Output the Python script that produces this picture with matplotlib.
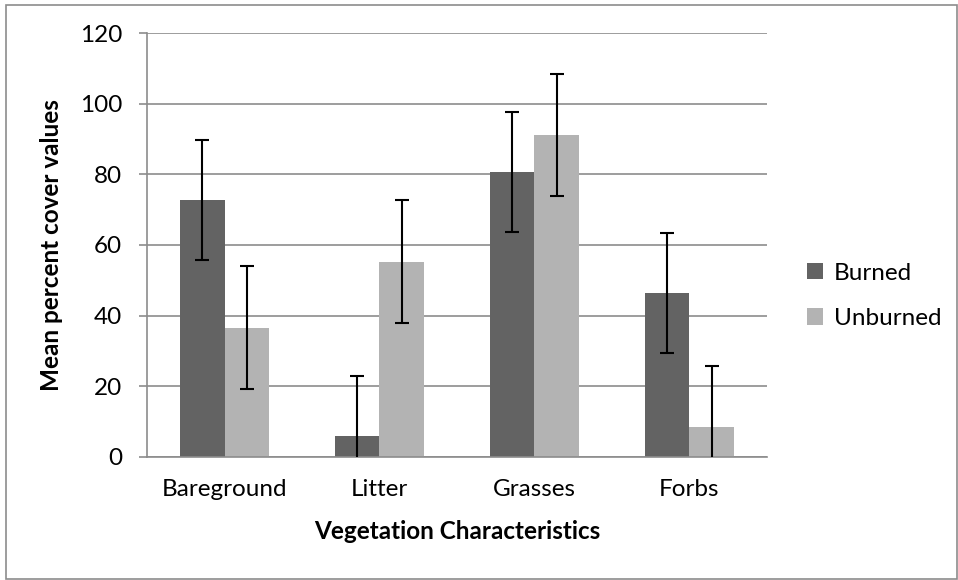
import numpy as np
import matplotlib.pyplot as plt
from matplotlib.patches import Rectangle

plt.rcParams['font.family'] = ['Lato', 'DejaVu Sans']

categories = ['Bareground', 'Litter', 'Grasses', 'Forbs']
burned = [72.7, 5.8, 80.6, 46.4]
unburned = [36.6, 55.3, 91.2, 8.5]
burned_err = [17, 17, 17, 17]
unburned_err = [17.4, 17.3, 17.3, 17.3]

fig = plt.figure(figsize=(9.58, 5.8), dpi=100)
ax = fig.add_axes([0.1535, 0.2121, 0.647, 0.731])

x = np.arange(len(categories))
w = 0.286
ax.bar(x - w / 2, burned, w, color='#636363', label='Burned', zorder=2)
ax.bar(x + w / 2, unburned, w, color='#b3b3b3', label='Unburned', zorder=2)
ax.errorbar(x - w / 2, burned, yerr=burned_err, fmt='none', ecolor='black',
            elinewidth=1.5, capsize=4.7, capthick=1.5, zorder=3)
ax.errorbar(x + w / 2, unburned, yerr=unburned_err, fmt='none', ecolor='black',
            elinewidth=1.5, capsize=4.7, capthick=1.5, zorder=3)

ax.set_xlim(-0.5, 3.5)
ax.set_ylim(0, 120)
ax.set_yticks(range(0, 121, 20))
ax.set_xticks(x)
ax.set_xticklabels(categories)
ax.grid(axis='y', color='#8c8c8c', linewidth=1.2, zorder=0)
for s in ['top', 'right']:
    ax.spines[s].set_visible(False)
for s in ['left', 'bottom']:
    ax.spines[s].set_color('#8c8c8c')
    ax.spines[s].set_linewidth(1.2)
ax.tick_params(axis='y', length=6, width=1.2, color='#8c8c8c', labelsize=17.5, pad=12)
ax.tick_params(axis='x', length=0, labelsize=17.5, pad=16)

ax.set_xlabel('Vegetation Characteristics', fontsize=17.5, fontweight='bold', labelpad=14)
ax.set_ylabel('Mean percent cover values', fontsize=17.5, fontweight='bold', labelpad=12)

leg = ax.legend(loc='center left', bbox_to_anchor=(1.03, 0.38), frameon=False,
                fontsize=17.5, handlelength=0.65, handleheight=0.65, handletextpad=0.45,
                labelspacing=1.0)

fig.patches.append(Rectangle((0.006, 0.002), 0.993, 0.99, transform=fig.transFigure,
                             fill=False, edgecolor='#8c8c8c', linewidth=1.2))

fig.savefig('out.png', dpi=100)
